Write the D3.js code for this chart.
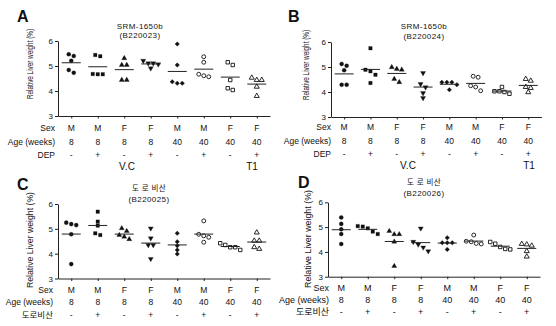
<!DOCTYPE html>
<html>
<head>
<meta charset="utf-8">
<script src="https://cdn.jsdelivr.net/npm/d3@7"></script>
<style>
  body { margin: 0; background: #fff; }
  svg { display: block; }
  text { font-family: Arial, "Liberation Sans", "Noto Sans CJK KR", sans-serif; fill: #111; }
</style>
</head>
<body>
<div id="chart"></div>
<script>
// table rows under each plot
const sexes = ["M", "M", "F", "F", "M", "M", "F", "F"];
const ages = ["8", "8", "8", "8", "40", "40", "40", "40"];
const treatments = ["-", "+", "-", "+", "-", "+", "-", "+"];
const yTicks = [3, 4, 5, 6];

// relative liver weight (%), 5 animals per group
const valuesA = [
  [5.47, 5.40, 5.21, 4.84, 4.73],
  [5.44, 5.39, 4.68, 4.67, 4.67],
  [5.31, 5.04, 5.04, 4.44, 4.44],
  [5.21, 5.11, 5.11, 5.07, 4.91],
  [5.88, 5.04, 4.37, 4.31, 4.31],
  [5.37, 5.15, 4.67, 4.61, 4.57],
  [5.15, 5.04, 4.44, 4.11, 4.04],
  [4.53, 4.44, 4.44, 4.17, 3.80]
];
const valuesB = [
  [5.12, 5.05, 4.87, 4.29, 4.29],
  [5.75, 4.89, 4.83, 4.69, 4.36],
  [4.99, 4.92, 4.89, 4.52, 4.39],
  [4.76, 4.32, 4.19, 3.96, 3.76],
  [4.39, 4.39, 4.39, 4.29, 4.09],
  [4.63, 4.59, 4.25, 4.20, 4.05],
  [4.20, 4.03, 4.03, 4.00, 3.93],
  [4.52, 4.45, 4.20, 4.16, 3.99]
];
const valuesC = [
  [5.25, 5.19, 5.15, 4.78, 3.58],
  [5.69, 5.29, 5.13, 4.82, 4.75],
  [5.02, 4.91, 4.75, 4.68, 4.58],
  [5.02, 4.62, 4.35, 4.35, 3.79],
  [4.82, 4.48, 4.32, 4.15, 3.99],
  [5.32, 4.78, 4.72, 4.66, 4.46],
  [4.42, 4.35, 4.26, 4.26, 4.15],
  [4.85, 4.52, 4.52, 4.26, 4.19]
];
const valuesD = [
  [5.39, 5.13, 4.91, 4.72, 4.32],
  [5.04, 5.02, 4.95, 4.82, 4.72],
  [4.84, 4.71, 4.71, 4.41, 3.43],
  [4.95, 4.41, 4.30, 4.18, 4.03],
  [4.57, 4.37, 4.37, 4.37, 4.10],
  [4.68, 4.43, 4.41, 4.34, 4.32],
  [4.40, 4.33, 4.20, 4.12, 4.10],
  [4.32, 4.30, 4.25, 4.03, 3.81]
];

// prism style markers, one per group
const markers = [
  { type: d3.symbolCircle, rot: 0, open: false, size: 13 },
  { type: d3.symbolSquare, rot: 0, open: false, size: 12 },
  { type: d3.symbolTriangle, rot: 0, open: false, size: 11 },
  { type: d3.symbolTriangle, rot: 180, open: false, size: 11 },
  { type: d3.symbolSquare, rot: 45, open: false, size: 10 },
  { type: d3.symbolCircle, rot: 0, open: true, size: 12 },
  { type: d3.symbolSquare, rot: 0, open: true, size: 12 },
  { type: d3.symbolTriangle, rot: 0, open: true, size: 11 }
];

const panels = [
  { letter: "A", lx: 17, ly: 22, values: valuesA, axisX: 58, step: 26.5, yTop: 41, yBot: 116,
    titles: ["SRM-1650b", "(B220023)"], titleX: 140, titleY: [28.5, 38], cjk: false,
    rowName: "DEP", rowRight: 55, rowY: [131, 145, 158], rowFont: 8.5,
    labelX: 33, labelY: 64, labelLen: 70,
    groups: [["V.C", 127, 169.5], ["T1", 252, 169.5]] },
  { letter: "B", lx: 288, ly: 22, values: valuesB, axisX: 331, step: 26.3, yTop: 42, yBot: 117,
    titles: ["SRM-1650b", "(B220024)"], titleX: 424, titleY: [29, 38.5], cjk: false,
    rowName: "DEP", rowRight: 331, rowY: [130, 144, 157], rowFont: 8.5,
    labelX: 309, labelY: 65, labelLen: 70,
    groups: [["V.C", 408, 169], ["T1", 529, 169]] },
  { letter: "C", lx: 17, ly: 190, values: valuesC, axisX: 58, step: 26.5, yTop: 204, yBot: 278.5,
    titles: ["도 로 비산", "(B220025)"], titleX: 149, titleY: [191, 201.5], cjk: true,
    rowName: "도로비산", rowRight: 53, rowY: [292.5, 305, 317.5], rowFont: 8.5,
    labelX: 33, labelY: 240, labelLen: 96, groups: [] },
  { letter: "D", lx: 298, ly: 188, values: valuesD, axisX: 328, step: 26.5, yTop: 202.3, yBot: 276.7,
    titles: ["도 로 비산", "(B220026)"], titleX: 424, titleY: [184.5, 196], cjk: true,
    rowName: "도로비산", rowRight: 329, rowY: [291, 302.5, 315], rowFont: 9,
    labelX: 311, labelY: 239, labelLen: 98, groups: [] }
];

// spread points that overlap vertically into centred rows
function swarm(vals, y, gap, near) {
  const order = vals.map((v, i) => i).sort((a, b) => vals[b] - vals[a]);
  const dx = new Array(vals.length).fill(0);
  let row = [order[0]];
  const rows = [];
  for (let k = 1; k < order.length; k++) {
    const prev = order[k - 1], cur = order[k];
    if (Math.abs(y(vals[cur]) - y(vals[prev])) < near) row.push(cur);
    else { rows.push(row); row = [cur]; }
  }
  rows.push(row);
  rows.forEach(r => r.forEach((i, k) => { dx[i] = (k - (r.length - 1) / 2) * gap; }));
  return dx;
}

const width = 556, height = 326;
const svg = d3.select("#chart").append("svg")
  .attr("width", width)
  .attr("height", height);

function drawPanel(p) {
  const g = svg.append("g");
  const x = d3.scalePoint().domain(d3.range(8))
    .range([p.axisX, p.axisX + 8 * p.step]).padding(0.5);
  const y = d3.scaleLinear().domain([3, 6]).range([p.yBot, p.yTop]);

  const ya = g.append("g")
    .attr("transform", `translate(${p.axisX},0)`)
    .call(d3.axisLeft(y).tickValues(yTicks).tickSize(3).tickSizeOuter(0).tickPadding(2).tickFormat(d3.format("d")));
  ya.selectAll("text").style("font-size", "8px").attr("font-family", null);

  g.append("g")
    .attr("transform", `translate(0,${p.yBot})`)
    .call(d3.axisBottom(x).tickSize(2.5).tickSizeOuter(0).tickFormat(""));
  g.selectAll(".domain, .tick line").attr("stroke", "#222").attr("stroke-width", 1);

  // panel letter
  g.append("text").attr("x", p.lx).attr("y", p.ly)
    .style("font-size", "16px").style("font-weight", "bold").text(p.letter);

  // title
  p.titles.forEach((t, i) => {
    g.append("text").attr("x", p.titleX).attr("y", p.titleY[i])
      .attr("text-anchor", "middle")
      .style("font-size", (i === 0 && p.cjk) ? "7.5px" : "8px")
      .style("letter-spacing", "0.4px")
      .text(t);
  });

  // y axis label
  g.append("text")
    .attr("transform", `translate(${p.labelX},${p.labelY}) rotate(-90)`)
    .attr("text-anchor", "middle")
    .attr("textLength", p.labelLen)
    .attr("lengthAdjust", "spacingAndGlyphs")
    .style("font-size", "9px")
    .text("Relative Liver weight (%)");

  // points and mean lines
  p.values.forEach((vals, gi) => {
    const m = markers[gi];
    const dx = swarm(vals, y, 5, 3.8);
    const sym = d3.symbol().type(m.type).size(m.size);
    g.append("g").selectAll("path").data(vals).join("path")
      .attr("d", sym)
      .attr("transform", (d, i) => `translate(${x(gi) + dx[i]},${y(d)}) rotate(${m.rot})`)
      .attr("fill", m.open ? "#fff" : "#111")
      .attr("stroke", "#111")
      .attr("stroke-width", m.open ? 0.9 : 0.3);
    const mean = d3.mean(vals);
    g.append("line")
      .attr("x1", x(gi) - 9.5).attr("x2", x(gi) + 9.5)
      .attr("y1", y(mean)).attr("y2", y(mean))
      .attr("stroke", "#222").attr("stroke-width", 1);
  });

  // table under the axis
  const rowNames = ["Sex", "Age (weeks)", p.rowName];
  const rowVals = [sexes, ages, treatments];
  rowNames.forEach((name, r) => {
    g.append("text").attr("x", p.rowRight).attr("y", p.rowY[r])
      .attr("text-anchor", "end").style("font-size", p.rowFont + "px").text(name);
    g.append("g").selectAll("text").data(rowVals[r]).join("text")
      .attr("x", (d, i) => x(i)).attr("y", p.rowY[r])
      .attr("text-anchor", "middle").style("font-size", p.rowFont + "px")
      .text(d => d);
  });

  p.groups.forEach(([t, gx, gy]) => {
    g.append("text").attr("x", gx).attr("y", gy)
      .attr("text-anchor", "middle").style("font-size", "10px").text(t);
  });
}

panels.forEach(drawPanel);
</script>
</body>
</html>
